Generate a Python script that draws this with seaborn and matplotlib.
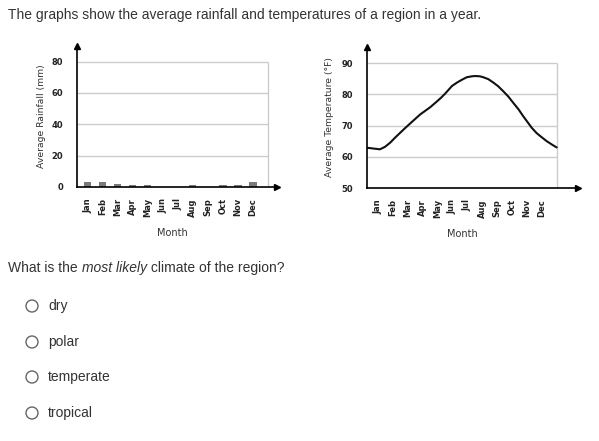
import matplotlib
matplotlib.use("Agg")
import matplotlib.pyplot as plt
import matplotlib.patches as mpatches
import seaborn as sns
import pandas as pd

# ---- data ----
months = ["Jan", "Feb", "Mar", "Apr", "May", "Jun",
          "Jul", "Aug", "Sep", "Oct", "Nov", "Dec"]
rainfall_mm = [3, 3, 2, 1, 1, 0, 0, 1, 0, 1.5, 1, 3]

# temperature curve sampled along the month axis (Jan = 0)
temp_pos = [-0.74, 0.13, 0.47, 0.81, 1.16, 1.73, 2.28, 2.84, 3.51, 3.97,
            4.23, 4.52, 4.97, 5.31, 5.60, 5.96, 6.30, 6.52, 6.85, 7.08,
            7.41, 7.75, 8.08, 8.42, 8.76, 9.09, 9.43, 9.76, 10.10, 10.33,
            10.66, 10.89, 11.34, 11.73, 12.01]
temp_f = [62.9, 62.4, 63.2, 64.5, 66.2, 68.8, 71.2, 73.6, 75.9, 77.8,
          78.9, 80.3, 82.7, 83.8, 84.6, 85.5, 85.8, 85.9, 85.8, 85.5,
          84.9, 83.8, 82.6, 81.0, 79.3, 77.3, 75.3, 73.0, 70.8, 69.3,
          67.6, 66.7, 65.0, 63.8, 63.0]

rain_ticks = [0, 20, 40, 60, 80]
temp_ticks = [50, 60, 70, 80, 90]

title = "The graphs show the average rainfall and temperatures of a region in a year."
question = ["What is the ", "most likely", " climate of the region?"]
options = ["dry", "polar", "temperate", "tropical"]

sns.set_theme(style="white")
plt.rcParams["font.family"] = ["DejaVu Sans"]

TXT = "#333333"
GRID = "#cccccc"
W, H = 599, 441

fig = plt.figure(figsize=(W / 100, H / 100), dpi=100)


def px_axes(left, right, bottom, top):
    return fig.add_axes([left / W, 1 - bottom / H, (right - left) / W, (bottom - top) / H])


def style_chart(ax, ticks, ylabel, label_x):
    for s in ["top", "right"]:
        ax.spines[s].set_visible(False)
    for s in ["left", "bottom"]:
        ax.spines[s].set_color("black")
        ax.spines[s].set_linewidth(1.2)
    # arrow heads on the axes
    ax.plot(1, 0, ">", color="black", markersize=4, transform=ax.transAxes, clip_on=False)
    ax.plot(0, 1, "^", color="black", markersize=4, transform=ax.transAxes, clip_on=False)
    xmin = ax.get_xlim()[0]
    ax.hlines(ticks[1:], xmin, 12, color=GRID, linewidth=1, zorder=0)
    ax.vlines(12, ticks[0], ticks[-1], color=GRID, linewidth=1, zorder=0)
    ax.set_yticks(ticks)
    ax.set_yticklabels([str(t) for t in ticks], fontsize=6, fontweight="bold", color="#222222")
    ax.tick_params(axis="y", length=0, pad=10)
    ax.set_xticks(range(13))
    ax.set_xticklabels(months + [""], rotation=90, fontsize=6, fontweight="bold", color="#222222")
    ax.tick_params(axis="x", length=4, width=1, color="#bbbbbb", pad=4)
    ax.set_xlabel("Month", fontsize=7, color=TXT)
    ax.xaxis.set_label_coords(label_x, -0.29)
    ax.set_ylabel(ylabel, fontsize=6.7, color=TXT)


# ---- rainfall bars ----
ax1 = px_axes(77, 277, 187, 46)
rain_df = pd.DataFrame({"Month": months, "Rain": rainfall_mm})
sns.barplot(data=rain_df, x="Month", y="Rain", color="#7a7a7a", saturation=1,
            width=0.48, linewidth=0, ax=ax1)
ax1.set_xlim(-0.71, 12.6)
ax1.set_ylim(0, 90)
style_chart(ax1, rain_ticks, "Average Rainfall (mm)", (172 - 77) / 200)
ax1.yaxis.set_label_coords(-0.155, 0.5)

# ---- temperature line ----
ax2 = px_axes(367, 578, 188, 47)
temp_df = pd.DataFrame({"pos": temp_pos, "temp": temp_f})
sns.lineplot(data=temp_df, x="pos", y="temp", color="#111111", linewidth=1.5, ax=ax2)
ax2.set_xlim(-0.74, 13.44)
ax2.set_ylim(50, 95.2)
style_chart(ax2, temp_ticks, "Average Temperature (°F)", (462 - 367) / 211)
ax2.yaxis.set_label_coords(-0.157, 0.5)

# ---- question text ----
base = ["Liberation Sans", "DejaVu Sans"]
fig.text(8 / W, 1 - 15 / H, title, fontsize=10, color=TXT, va="center", family=base)

prev = fig.text(8 / W, 1 - 268 / H, question[0], fontsize=10, color=TXT,
                va="center", family=base)
for i, part in enumerate(question[1:]):
    prev = fig.add_artist(
        matplotlib.text.Annotation(part, xy=(1, 0), xycoords=prev, va="bottom", ha="left",
                                   fontsize=10, color=TXT, family=base,
                                   style="italic" if i == 0 else "normal"))

for i, opt in enumerate(options):
    yc = [306, 342, 377, 413][i]
    fig.add_artist(mpatches.Circle((32 / 100, (H - yc) / 100), 0.06,
                                   transform=fig.dpi_scale_trans, facecolor="white",
                                   edgecolor="#666666", linewidth=1))
    fig.text(48 / W, 1 - yc / H, opt, fontsize=10, color=TXT, va="center", family=base)

fig.savefig("out.png", dpi=100)
